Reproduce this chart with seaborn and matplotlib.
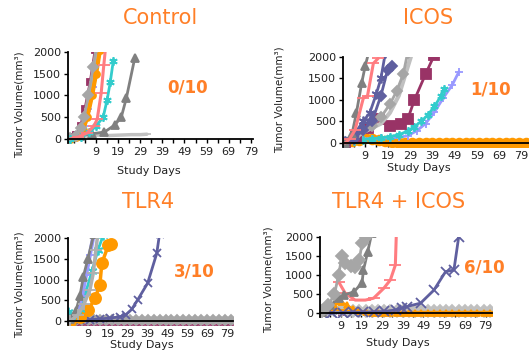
import numpy as np
import matplotlib
matplotlib.use("Agg")
import matplotlib.pyplot as plt
import seaborn as sns

# ---------------- DATA ----------------
X_TICKS = [9, 19, 29, 39, 49, 59, 69, 79]
X_MINOR = [-1, 4, 14, 24, 34, 44, 54, 64, 74]
Y_TICKS = [0, 500, 1000, 1500, 2000]

TITLES = ["Control", "ICOS", "TLR4", "TLR4 + ICOS"]
RESPONDERS = ["0/10", "1/10", "3/10", "6/10"]

# Control
ctrl_lightgray_days = [-3, 2, 6, 10, 15, 20, 25, 29, 32]
ctrl_lightgray_vol = [0, 50, 80, 90, 80, 90, 100, 100, 110]
ctrl_darkgray_days = [-3, 2, 7, 12.8, 17.4, 20.4, 22.7, 26.5]
ctrl_darkgray_vol = [30, 80, 120, 160, 320, 500, 940, 1860]
ctrl_cyan_days = [-3, 2, 6, 9, 12.2, 14, 15.4, 16.8]
ctrl_cyan_vol = [0, 50, 150, 300, 500, 900, 1300, 1800]
ctrl_salmon_days = [-3, 1, 5, 8, 9.5, 11.3, 12.5, 13.2]
ctrl_salmon_vol = [0, 50, 140, 300, 450, 1050, 1700, 2050]
ctrl_purple_days = [-3, 1, 4, 6, 8, 10.8]
ctrl_purple_vol = [50, 100, 300, 700, 1200, 2050]
ctrl_orange_days = [-3, 0, 3, 5, 7.2, 9, 10.8]
ctrl_orange_vol = [0, 50, 200, 500, 1000, 1500, 2050]
ctrl_darkblue_days = [-3, 0, 3, 5, 7, 9.5]
ctrl_darkblue_vol = [60, 100, 300, 700, 1300, 2050]
ctrl_maroon_days = [-3, 0, 2, 4, 6.3, 8.6]
ctrl_maroon_vol = [50, 100, 300, 700, 1300, 2050]
ctrl_silver_days = [-3, 0, 3, 5, 7, 9.5]
ctrl_silver_vol = [0, 80, 300, 700, 1300, 2050]
ctrl_gray_days = [-3, 0, 2, 3.6, 5.4, 7.7, 9]
ctrl_gray_vol = [30, 80, 250, 500, 1000, 1650, 2100]

# ICOS
icos_orange_days = [0, 3, 6, 9, 12, 15, 18, 21, 24, 27, 30, 33, 36, 39, 42, 45,
                    48, 51, 54, 57, 60, 63, 66, 69, 72, 75, 78, 81]
icos_orange_vol = [0, 40, 80, 110, 100, 70, 40, 20, 10, 10, 10, 10, 10, 10, 10, 10,
                   10, 10, 10, 10, 10, 10, 10, 10, 10, 10, 10, 10]
icos_purple_days = [0, 4, 8, 12, 16, 20, 24, 28, 32, 36, 40, 44, 48, 51]
icos_purple_vol = [0, 60, 100, 100, 110, 120, 130, 170, 280, 450, 720, 1050, 1350, 1660]
icos_cyan_days = [0, 4, 8, 12, 16, 20, 24, 28, 31, 34, 37, 40, 43, 44.5]
icos_cyan_vol = [0, 50, 80, 100, 120, 150, 190, 280, 380, 500, 650, 850, 1100, 1250]
icos_maroon_days = [0, 5, 10, 15, 20, 25, 28, 31, 36, 40]
icos_maroon_vol = [0, 150, 350, 550, 400, 450, 550, 1000, 1600, 2050]
icos_lightgray_days = [0, 4, 8, 12, 16, 20, 24, 27, 30]
icos_lightgray_vol = [0, 100, 250, 350, 450, 700, 1100, 1600, 2100]
icos_gray_days = [0, 4, 8, 12, 16, 20, 23, 26, 28]
icos_gray_vol = [30, 150, 300, 400, 600, 900, 1200, 1600, 2100]
icos_darkblue2_days = [0, 4, 8, 12, 16, 19, 21]
icos_darkblue2_vol = [0, 100, 300, 500, 1100, 1700, 1800]
icos_darkblue_days = [0, 4, 8, 11, 14, 16, 18]
icos_darkblue_vol = [50, 200, 500, 700, 1150, 1500, 2100]
icos_darkgray_days = [0, 3, 5, 7.4, 9, 11]
icos_darkgray_vol = [0, 200, 700, 1400, 1800, 2200]
icos_salmon_days = [0, 2, 4.4, 8.1, 10, 12.6, 14.8]
icos_salmon_vol = [0, 100, 300, 1040, 1100, 1850, 1970]

# TLR4
tlr_flat_days = [0, 3, 6, 9, 12, 15, 18, 21, 24, 27, 30, 33, 36, 39, 42, 45,
                 48, 51, 54, 57, 60, 63, 66, 69, 72, 75, 78, 81]
tlr_maroon_vol = [-50, -50, -50, -50, -50, -50, -50, -50, -50, -50, -50, -50, -50, -50,
                  -50, -50, -50, -50, -50, -50, -50, -50, -50, -50, -50, -50, -50, -50]
tlr_salmon_vol = [0, 20, 30, 20, 10, 10, 10, 10, 10, 10, 10, 10, 10, 10, 10, 10,
                  10, 10, 10, 10, 10, 10, 10, 10, 10, 10, 10, 10]
tlr_lightgray_vol = [20, 30, 40, 30, 30, 20, 20, 20, 20, 20, 20, 20, 20, 20, 20, 20,
                     20, 20, 20, 20, 20, 20, 20, 20, 20, 20, 20, 20]
tlr_gray_vol = [10, 20, 30, 30, 20, 20, 20, 20, 20, 20, 20, 20, 20, 20, 20, 20,
                20, 20, 20, 20, 20, 20, 20, 20, 20, 20, 20, 20]
tlr_darkblue_days = [0, 5, 10, 15, 20, 25, 28, 31, 34, 39, 43.6, 45]
tlr_darkblue_vol = [0, 20, 30, 50, 70, 100, 150, 280, 510, 910, 1630, 2100]
tlr_orange_days = [0, 5, 9.2, 12.6, 15, 16, 19.3, 20.5]
tlr_orange_vol = [0, 100, 260, 550, 870, 1390, 1830, 1850]
tlr_cyan_days = [-1, 2, 5, 8, 11, 14, 16.7]
tlr_cyan_vol = [220, 150, 300, 700, 1200, 1700, 2070]
tlr_purple_days = [0, 3.4, 6, 8, 10, 11.7]
tlr_purple_vol = [0, 190, 600, 1100, 1600, 2030]
tlr_darkgray_days = [0, 3, 5, 6.7, 9, 12]
tlr_darkgray_vol = [50, 250, 600, 1070, 1500, 2100]
tlr_silver_days = [0, 4, 7, 10, 11.7, 13, 14]
tlr_silver_vol = [0, 150, 400, 750, 1150, 1710, 2100]

# TLR4 + ICOS
combo_flat_days = [0, 3, 6, 9, 12, 15, 18, 21, 24, 27, 30, 33, 36, 39, 42, 45,
                   48, 51, 54, 57, 60, 63, 66, 69, 72, 75, 78, 81]
combo_lightgray_vol = [40, 60, 80, 70, 60, 50, 40, 40, 40, 40, 40, 40, 40, 40, 40, 40,
                       40, 40, 40, 40, 40, 40, 40, 40, 40, 40, 40, 40]
combo_maroon_vol = [0, 10, 20, 10, 10, 0, 0, 0, 0, 0, 0, 0, 0, 0, 0, 0,
                    0, 0, 0, 0, 0, 0, 0, 0, 0, 0, 0, 0]
combo_cyan_vol = [0, 20, 30, 20, 10, 10, 10, 10, 10, 10, 10, 10, 10, 10, 10, 10,
                  10, 10, 10, 10, 10, 10, 10, 10, 10, 10, 10, 10]
combo_purple_vol = [10, 30, 40, 30, 20, 20, 20, 20, 20, 20, 20, 20, 20, 20, 20, 20,
                    20, 20, 20, 20, 20, 20, 20, 20, 20, 20, 20, 20]
combo_orange2_vol = [0, 60, 100, 80, 60, 40, 30, 30, 30, 30, 30, 30, 30, 30, 30, 30,
                     30, 30, 30, 30, 30, 30, 30, 30, 30, 30, 30, 30]
combo_orange_vol = [0, 100, 200, 300, 200, 100, 50, 20, 0, 0, 0, 0, 0, 0, 0, 0,
                    0, 0, 0, 0, 0, 0, 0, 0, 0, 0, 0, 0]
combo_darkblue_days = [0, 5, 10, 15, 20, 25, 30, 35.6, 38.6, 41, 47.6, 54, 59.7, 63.7, 66, 67]
combo_darkblue_vol = [0, 0, 10, 20, 20, 30, 40, 80, 130, 170, 260, 600, 1090, 1130, 2000, 2600]
combo_salmon_days = [8, 11.2, 16, 20.9, 24.9, 29.8, 33, 35.4, 37]
combo_salmon_vol = [820, 520, 340, 340, 390, 650, 870, 1260, 4000]
combo_darkgray_days = [0, 4, 8, 10.6, 15.4, 19.3, 20, 22, 24]
combo_darkgray_vol = [30, 200, 400, 470, 560, 790, 1130, 1600, 2100]
combo_gray_days = [0, 3, 6, 8, 9.6, 11.2, 14, 16, 18, 19.3, 21]
combo_gray_vol = [50, 200, 500, 1000, 1500, 1310, 1250, 1220, 1400, 1830, 2000]

# ---------------- STYLES ----------------
C = {
    "darkblue": "#5F5F9F", "maroon": "#993366", "cyan": "#33CCCC",
    "orange": "#FF9900", "gray": "#A6A6A6", "darkgray": "#808080",
    "salmon": "#FF7C80", "purple": "#9999FF", "lightgray": "#C0C0C0",
    "silver": "#B0B0B0",
}
STAR = (6, 2, 0)
ORANGE_TXT = "#FF7F27"

W, H = 529, 350
sns.set_theme(style="white")
plt.rcParams["font.family"] = ["DejaVu Sans"]

fig = plt.figure(figsize=(W / 100, H / 100), dpi=100)
fig.patch.set_facecolor("white")


def add_panel(l, r, t, z, xmin, xmax):
    ymin = -100
    b = z + (z - t) * (-ymin) / 2000
    ax = fig.add_axes([l / W, 1 - b / H, (r - l) / W, (b - t) / H])
    ax.set_facecolor("none")
    ax.set_xlim(xmin, xmax)
    ax.set_ylim(ymin, 2000)
    for s in ["top", "right"]:
        ax.spines[s].set_visible(False)
    ax.spines["left"].set_color("black")
    ax.spines["left"].set_linewidth(1.3)
    ax.spines["bottom"].set_color("black")
    ax.spines["bottom"].set_linewidth(1.3)
    ax.spines["bottom"].set_position(("data", 0))
    ax.set_xticks(X_TICKS)
    ax.set_xticks(X_MINOR, minor=True)
    ax.set_yticks(Y_TICKS)
    ax.tick_params(axis="both", which="both", direction="out", length=3,
                   width=1, color="black", labelsize=8, labelcolor="#222222",
                   bottom=True, left=True)
    ax.tick_params(axis="x", pad=3)
    ax.tick_params(axis="y", pad=2)
    ax.set_xlabel("")
    ax.set_ylabel("")
    return ax


def draw(ax, days, vol, color, marker=None, ms=5, lw=2.0, mew=1.3, z=2):
    sns.lineplot(x=days, y=vol, ax=ax, color=color, marker=marker,
                 markersize=ms, linewidth=lw, markeredgecolor=color,
                 markerfacecolor=color, markeredgewidth=mew,
                 estimator=None, sort=False, legend=False, zorder=z)


def ftext(px, py, s, **kw):
    fig.text(px / W, 1 - py / H, s, ha="center", va="center", **kw)


# ---- Panel 1: Control ----
ax1 = add_panel(68, 253, 52, 139, -3.7, 80)
draw(ax1, ctrl_lightgray_days, ctrl_lightgray_vol, C["lightgray"], "_", 6, 2.5)
draw(ax1, ctrl_darkgray_days, ctrl_darkgray_vol, C["darkgray"], "^", 6)
draw(ax1, ctrl_purple_days, ctrl_purple_vol, C["purple"], "+", 5)
draw(ax1, ctrl_darkblue_days, ctrl_darkblue_vol, C["darkblue"], "x", 4)
draw(ax1, ctrl_maroon_days, ctrl_maroon_vol, C["maroon"], "s", 4)
draw(ax1, ctrl_silver_days, ctrl_silver_vol, C["silver"], "+", 5)
draw(ax1, ctrl_orange_days, ctrl_orange_vol, C["orange"], "o", 5, 3.0)
draw(ax1, ctrl_gray_days, ctrl_gray_vol, C["gray"], "D", 5)
draw(ax1, ctrl_cyan_days, ctrl_cyan_vol, C["cyan"], STAR, 6)
draw(ax1, ctrl_salmon_days, ctrl_salmon_vol, C["salmon"], "_", 8, 2.2)

# ---- Panel 2: ICOS ----
ax2 = add_panel(343, 529, 57, 143, -1, 82.4)
draw(ax2, icos_orange_days, icos_orange_vol, C["orange"], "o", 7, 3.0)
draw(ax2, icos_purple_days, icos_purple_vol, C["purple"], "+", 6)
draw(ax2, icos_cyan_days, icos_cyan_vol, C["cyan"], STAR, 6)
draw(ax2, icos_maroon_days, icos_maroon_vol, C["maroon"], "s", 7)
draw(ax2, icos_lightgray_days, icos_lightgray_vol, C["lightgray"], None, 5, 3.0)
draw(ax2, icos_gray_days, icos_gray_vol, C["gray"], "D", 5)
draw(ax2, icos_darkblue2_days, icos_darkblue2_vol, C["darkblue"], "D", 5)
draw(ax2, icos_darkblue_days, icos_darkblue_vol, C["darkblue"], STAR, 7)
draw(ax2, icos_darkgray_days, icos_darkgray_vol, C["darkgray"], "^", 6)
draw(ax2, icos_salmon_days, icos_salmon_vol, C["salmon"], "_", 8, 2.2)

# ---- Panel 3: TLR4 ----
ax3 = add_panel(68, 233, 238, 321, -1, 81.9)
draw(ax3, tlr_flat_days, tlr_maroon_vol, C["maroon"], "s", 2.5, 0.0)
draw(ax3, tlr_flat_days, tlr_salmon_vol, C["salmon"], None, 4, 2.0)
draw(ax3, tlr_flat_days, tlr_lightgray_vol, C["lightgray"], "o", 5, 5.0)
draw(ax3, tlr_flat_days, tlr_gray_vol, C["gray"], "D", 5, 4.0)
draw(ax3, tlr_darkblue_days, tlr_darkblue_vol, C["darkblue"], "x", 6)
draw(ax3, tlr_orange_days, tlr_orange_vol, C["orange"], "o", 8, 2.5)
draw(ax3, tlr_cyan_days, tlr_cyan_vol, C["cyan"], STAR, 7)
draw(ax3, tlr_purple_days, tlr_purple_vol, C["purple"], "+", 6, 3.0)
draw(ax3, tlr_darkgray_days, tlr_darkgray_vol, C["darkgray"], "^", 6)
draw(ax3, tlr_silver_days, tlr_silver_vol, C["silver"], "+", 8, 2.5)

# ---- Panel 4: TLR4 + ICOS ----
ax4 = add_panel(320, 492, 237, 313, -1, 82.1)
draw(ax4, combo_flat_days, combo_maroon_vol, C["maroon"], "s", 3, 1.5)
draw(ax4, combo_flat_days, combo_cyan_vol, C["cyan"], STAR, 4, 1.5)
draw(ax4, combo_flat_days, combo_purple_vol, C["purple"], "+", 4, 1.5)
draw(ax4, combo_flat_days, combo_lightgray_vol, C["lightgray"], "D", 6, 4.5)
draw(ax4, combo_flat_days, combo_orange2_vol, C["orange"], "_", 7, 1.5)
draw(ax4, combo_flat_days, combo_orange_vol, C["orange"], "^", 5, 2.0)
draw(ax4, combo_darkblue_days, combo_darkblue_vol, C["darkblue"], "x", 7)
draw(ax4, combo_salmon_days, combo_salmon_vol, C["salmon"], "_", 8, 2.2)
draw(ax4, combo_darkgray_days, combo_darkgray_vol, C["darkgray"], "^", 6)
draw(ax4, combo_gray_days, combo_gray_vol, C["gray"], "D", 6)

# ---- Texts ----
title_kw = dict(color=ORANGE_TXT, fontsize=15)
ftext(160, 18, TITLES[0], **title_kw)
ftext(428, 18, TITLES[1], **title_kw)
ftext(148, 202, TITLES[2], **title_kw)
ftext(399, 202, TITLES[3], **title_kw)

resp_kw = dict(color=ORANGE_TXT, fontsize=12, fontweight="bold")
ftext(188, 88, RESPONDERS[0], **resp_kw)
ftext(490, 89, RESPONDERS[1], **resp_kw)
ftext(194, 272, RESPONDERS[2], **resp_kw)
ftext(484, 268, RESPONDERS[3], **resp_kw)

ylab_kw = dict(color="#222222", fontsize=7.5, rotation=90)
ftext(20, 105, "Tumor Volume(mm³)", **ylab_kw)
ftext(280, 100, "Tumor Volume(mm³)", **ylab_kw)
ftext(20, 285, "Tumor Volume(mm³)", **ylab_kw)
ftext(269, 280, "Tumor Volume(mm³)", **ylab_kw)

xlab_kw = dict(color="#222222", fontsize=8)
ftext(149, 171, "Study Days", **xlab_kw)
ftext(419, 168, "Study Days", **xlab_kw)
ftext(142, 345, "Study Days", **xlab_kw)
ftext(398, 343, "Study Days", **xlab_kw)

fig.savefig("out.png", dpi=100, facecolor="white")
